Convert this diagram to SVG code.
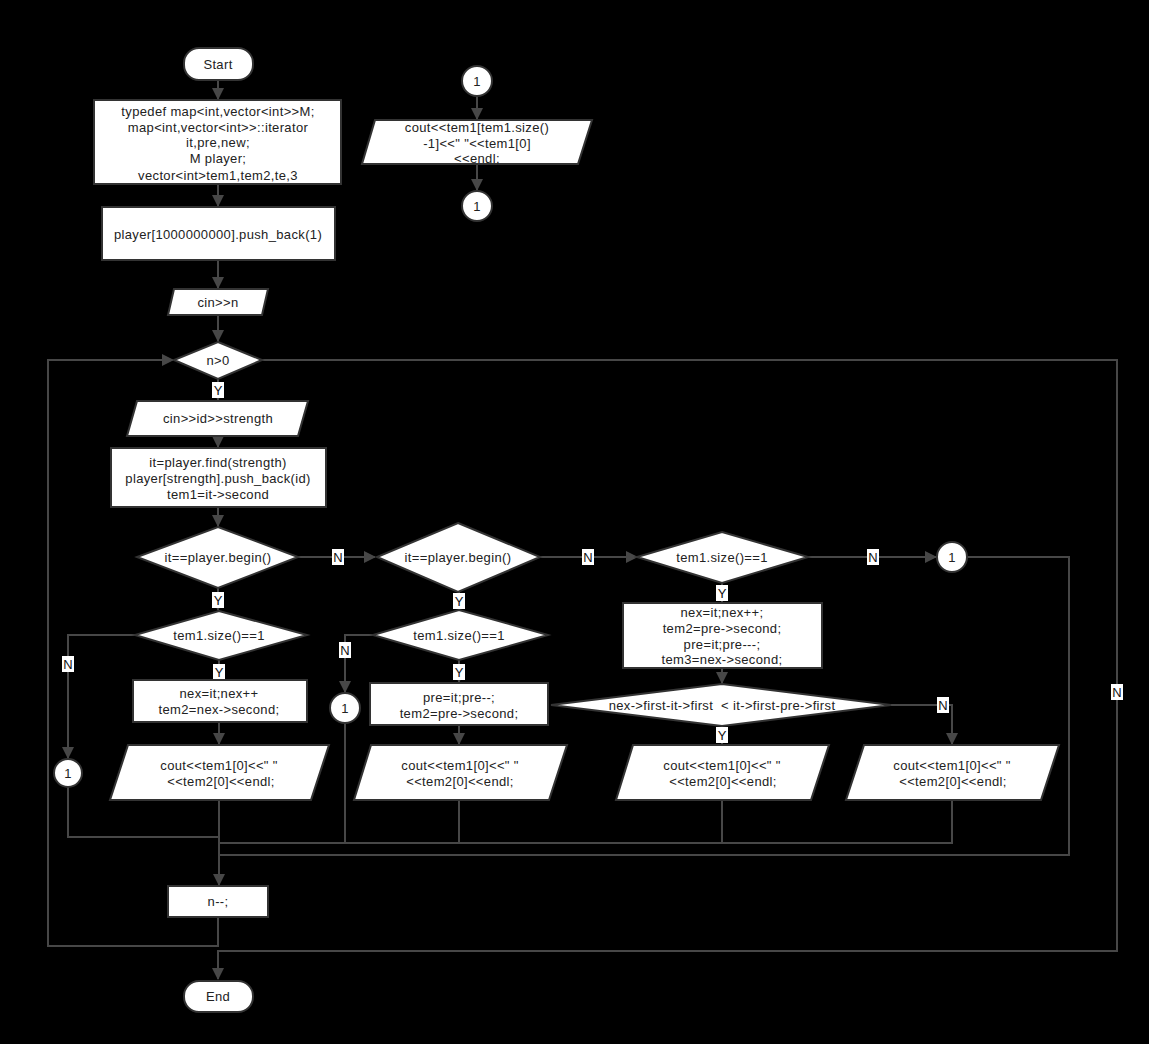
<svg xmlns="http://www.w3.org/2000/svg" width="1149" height="1044" viewBox="0 0 1149 1044">
<defs>
<marker id="arr" markerUnits="userSpaceOnUse" markerWidth="12" markerHeight="12" refX="11" refY="6" orient="auto">
<path d="M0,0 L12,6 L0,12 Z" fill="#474747"/>
</marker>
<style>
.sh{fill:#fff;stroke:#333;stroke-width:2}
.t{font-family:"Liberation Sans",Arial,sans-serif;font-size:13px;letter-spacing:0.35px;fill:#222;text-anchor:middle;dominant-baseline:central}
.c{fill:none;stroke:#474747;stroke-width:2}
.lb{fill:#fff}
.lt{font-family:"Liberation Sans",Arial,sans-serif;font-size:13px;fill:#111;text-anchor:middle;dominant-baseline:central}
</style>
</defs>
<rect width="1149" height="1044" fill="#000"/>

<g id="connectors">
<path class="c" d="M218,80 V99" marker-end="url(#arr)"/>
<path class="c" d="M218,184 V206" marker-end="url(#arr)"/>
<path class="c" d="M218,260 V288" marker-end="url(#arr)"/>
<path class="c" d="M218,315 V341" marker-end="url(#arr)"/>
<path class="c" d="M218,379 V400" marker-end="url(#arr)"/>
<path class="c" d="M218,437 V447" marker-end="url(#arr)"/>
<path class="c" d="M218,507 V526" marker-end="url(#arr)"/>
<path class="c" d="M218,588 V610" marker-end="url(#arr)"/>
<path class="c" d="M135,635 H68 V758" marker-end="url(#arr)"/>
<path class="c" d="M219,660 V679" marker-end="url(#arr)"/>
<path class="c" d="M219,722 V744" marker-end="url(#arr)"/>
<path class="c" d="M219,800 V885" marker-end="url(#arr)"/>
<path class="c" d="M68,787 V837 H219"/>
<path class="c" d="M298,557 H375" marker-end="url(#arr)"/>
<path class="c" d="M459,592 V609" marker-end="url(#arr)"/>
<path class="c" d="M373,635 H345 V692" marker-end="url(#arr)"/>
<path class="c" d="M459,660 V682" marker-end="url(#arr)"/>
<path class="c" d="M459,725 V744" marker-end="url(#arr)"/>
<path class="c" d="M459,800 V843"/>
<path class="c" d="M345,723 V843"/>
<path class="c" d="M540,557 H637" marker-end="url(#arr)"/>
<path class="c" d="M722,583 V602" marker-end="url(#arr)"/>
<path class="c" d="M722,668 V683" marker-end="url(#arr)"/>
<path class="c" d="M722,726 V744" marker-end="url(#arr)"/>
<path class="c" d="M722,800 V843"/>
<path class="c" d="M891,705 H952 V744" marker-end="url(#arr)"/>
<path class="c" d="M952,800 V843 H219"/>
<path class="c" d="M808,557 H936" marker-end="url(#arr)"/>
<path class="c" d="M967,557 H1069 V855 H219"/>
<path class="c" d="M218,917 V946 H48 V360 H173" marker-end="url(#arr)"/>
<path class="c" d="M262,360 H1117 V951 H218 V979" marker-end="url(#arr)"/>
<path class="c" d="M477,96 V119" marker-end="url(#arr)"/>
<path class="c" d="M477,164 V190" marker-end="url(#arr)"/>

<rect class="lb" x="212" y="382" width="12" height="16"/><text class="lt" x="218" y="390">Y</text>
<rect class="lb" x="212" y="592" width="12" height="16"/><text class="lt" x="218" y="600">Y</text>
<rect class="lb" x="62" y="656" width="12" height="16"/><text class="lt" x="68" y="664">N</text>
<rect class="lb" x="213" y="664" width="12" height="16"/><text class="lt" x="219" y="672">Y</text>
<rect class="lb" x="332" y="549" width="12" height="16"/><text class="lt" x="338" y="557">N</text>
<rect class="lb" x="453" y="593" width="12" height="16"/><text class="lt" x="459" y="601">Y</text>
<rect class="lb" x="339" y="642" width="12" height="16"/><text class="lt" x="345" y="650">N</text>
<rect class="lb" x="453" y="664" width="12" height="16"/><text class="lt" x="459" y="672">Y</text>
<rect class="lb" x="582" y="549" width="12" height="16"/><text class="lt" x="588" y="557">N</text>
<rect class="lb" x="716" y="585" width="12" height="16"/><text class="lt" x="722" y="593">Y</text>
<rect class="lb" x="716" y="727" width="12" height="16"/><text class="lt" x="722" y="735">Y</text>
<rect class="lb" x="937" y="697" width="12" height="16"/><text class="lt" x="943" y="705">N</text>
<rect class="lb" x="867" y="549" width="12" height="16"/><text class="lt" x="873" y="557">N</text>
<rect class="lb" x="1111" y="684" width="12" height="16"/><text class="lt" x="1117" y="692">N</text>
</g>

<g id="start"><rect class="sh" x="184" y="48" width="69" height="32" rx="15"/><text class="t" x="218" y="64">Start</text></g>
<g id="decl"><rect class="sh" x="94" y="100" width="247" height="84"/>
<text class="t" x="218" y="111">typedef map&lt;int,vector&lt;int&gt;&gt;M;</text>
<text class="t" x="218" y="127">map&lt;int,vector&lt;int&gt;&gt;::iterator</text>
<text class="t" x="218" y="142">it,pre,new;</text>
<text class="t" x="218" y="158">M player;</text>
<text class="t" x="218" y="175">vector&lt;int&gt;tem1,tem2,te,3</text></g>
<g id="init"><rect class="sh" x="102" y="207" width="233" height="53"/><text class="t" x="218" y="234">player[1000000000].push_back(1)</text></g>
<g id="cin-n"><polygon class="sh" points="174,289 268,289 262,315 168,315"/><text class="t" x="218" y="302">cin&gt;&gt;n</text></g>
<g id="cond-n"><polygon class="sh" points="218,342 262,360 218,379 174,360"/><text class="t" x="218" y="360">n&gt;0</text></g>
<g id="cin-id"><polygon class="sh" points="137,401 308,401 298,436 127,436"/><text class="t" x="218" y="418">cin&gt;&gt;id&gt;&gt;strength</text></g>
<g id="find"><rect class="sh" x="111" y="448" width="215" height="59"/>
<text class="t" x="218" y="462">it=player.find(strength)</text>
<text class="t" x="218" y="478">player[strength].push_back(id)</text>
<text class="t" x="218" y="494">tem1=it-&gt;second</text></g>
<g id="cond-begin1"><polygon class="sh" points="218,527 298,557 218,588 137,557"/><text class="t" x="218" y="557">it==player.begin()</text></g>
<g id="cond-size1"><polygon class="sh" points="219,611 307,635 219,660 135,635"/><text class="t" x="219" y="635">tem1.size()==1</text></g>
<g id="nex1"><rect class="sh" x="133" y="680" width="174" height="42"/>
<text class="t" x="219" y="693">nex=it;nex++</text>
<text class="t" x="219" y="709">tem2=nex-&gt;second;</text></g>
<g id="out1"><polygon class="sh" points="128,745 329,745 311,800 110,800"/>
<text class="t" x="219" y="765">cout&lt;&lt;tem1[0]&lt;&lt;" "</text>
<text class="t" x="221" y="781">&lt;&lt;tem2[0]&lt;&lt;endl;</text></g>
<g id="conn-a"><circle class="sh" cx="68" cy="773" r="14"/><text class="t" x="68" y="773">1</text></g>

<g id="cond-begin2"><polygon class="sh" points="458,523 540,557 458,592 377,557"/><text class="t" x="458" y="557">it==player.begin()</text></g>
<g id="cond-size2"><polygon class="sh" points="459,610 548,635 459,660 373,635"/><text class="t" x="459" y="635">tem1.size()==1</text></g>
<g id="pre2"><rect class="sh" x="370" y="683" width="178" height="42"/>
<text class="t" x="459" y="697">pre=it;pre--;</text>
<text class="t" x="459" y="713">tem2=pre-&gt;second;</text></g>
<g id="out2"><polygon class="sh" points="371,745 567,745 549,800 354,800"/>
<text class="t" x="460" y="765">cout&lt;&lt;tem1[0]&lt;&lt;" "</text>
<text class="t" x="460" y="781">&lt;&lt;tem2[0]&lt;&lt;endl;</text></g>
<g id="conn-b"><circle class="sh" cx="345" cy="708" r="15"/><text class="t" x="345" y="708">1</text></g>

<g id="cond-size3"><polygon class="sh" points="722,532 808,557 722,583 637,557"/><text class="t" x="722" y="557">tem1.size()==1</text></g>
<g id="both3"><rect class="sh" x="623" y="603" width="199" height="65"/>
<text class="t" x="722" y="612">nex=it;nex++;</text>
<text class="t" x="722" y="628">tem2=pre-&gt;second;</text>
<text class="t" x="722" y="644">pre=it;pre---;</text>
<text class="t" x="722" y="659">tem3=nex-&gt;second;</text></g>
<g id="cond-cmp"><polygon class="sh" points="722,684 891,705 722,726 551,705"/><text class="t" x="722" y="705" xml:space="preserve">nex-&gt;first-it-&gt;first  &lt; it-&gt;first-pre-&gt;first</text></g>
<g id="out3"><polygon class="sh" points="633,745 829,745 811,800 616,800"/>
<text class="t" x="722" y="765">cout&lt;&lt;tem1[0]&lt;&lt;" "</text>
<text class="t" x="723" y="781">&lt;&lt;tem2[0]&lt;&lt;endl;</text></g>
<g id="out4"><polygon class="sh" points="864,745 1059,745 1041,800 846,800"/>
<text class="t" x="952" y="765">cout&lt;&lt;tem1[0]&lt;&lt;" "</text>
<text class="t" x="953" y="781">&lt;&lt;tem2[0]&lt;&lt;endl;</text></g>
<g id="conn-c"><circle class="sh" cx="952" cy="557" r="15"/><text class="t" x="952" y="557">1</text></g>

<g id="dec"><rect class="sh" x="168" y="886" width="100" height="31"/><text class="t" x="218" y="901">n--;</text></g>
<g id="end"><rect class="sh" x="184" y="981" width="69" height="31" rx="15"/><text class="t" x="218" y="996">End</text></g>

<g id="conn-top"><circle class="sh" cx="477" cy="81" r="15"/><text class="t" x="477" y="81">1</text></g>
<g id="out-last"><polygon class="sh" points="375,120 592,120 578,164 362,164"/>
<text class="t" x="477" y="127">cout&lt;&lt;tem1[tem1.size()</text>
<text class="t" x="477" y="143">-1]&lt;&lt;" "&lt;&lt;tem1[0]</text>
<text class="t" x="477" y="158">&lt;&lt;endl;</text></g>
<g id="conn-bot"><circle class="sh" cx="477" cy="206" r="15"/><text class="t" x="477" y="206">1</text></g>
</svg>
